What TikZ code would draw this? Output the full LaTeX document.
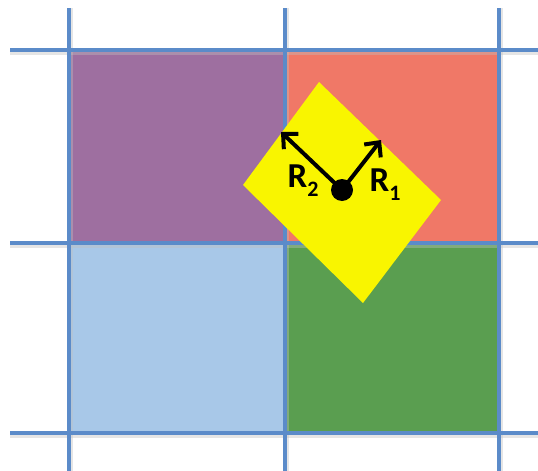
\documentclass[tikz,border=0pt]{standalone}
\usepackage{fontspec}
\setmainfont{Carlito}[BoldFont={Carlito Bold}]
\usetikzlibrary{arrows.meta}
\definecolor{gridblue}{HTML}{5B8BC9}
\definecolor{cpurple}{HTML}{9E6FA0}
\definecolor{csalmon}{HTML}{F07867}
\definecolor{clblue}{HTML}{A8C8E8}
\definecolor{cgreen}{HTML}{5A9E50}
\definecolor{cyellow}{HTML}{F9F500}
\newcommand{\rlab}[1]{\fontsize{35}{35}\selectfont\bfseries R\raisebox{-0.26em}{\fontsize{22}{22}\selectfont\bfseries #1}}
\begin{document}
\begin{tikzpicture}[x=1pt,y=-1pt,
  gridline/.style={draw=gridblue,line width=4pt},
  shadowline/.style={draw=black!25,line width=4pt,opacity=0.4},
  vec/.style={draw=black,line width=4pt,-{Straight Barb[length=11pt,width=21pt,line width=4pt]}},
  lab/.style={inner sep=0pt}]
\useasboundingbox (0,0) rectangle (538,471);
% cells
\fill[cpurple] (69,50) rectangle (285,243);
\fill[csalmon] (285,50) rectangle (499,243);
\fill[clblue] (69,243) rectangle (285,433);
\fill[cgreen] (285,243) rectangle (499,433);
% shadows
\foreach \x in {69,285,499} \draw[shadowline] (\x+2,8) -- (\x+2,471);
\foreach \y in {50,243,433} \draw[shadowline] (10,\y+2.5) -- (538,\y+2.5);
% grid lines
\foreach \x in {69,285,499} \draw[gridline] (\x,8) -- (\x,471);
\foreach \y in {50,243,433} \draw[gridline] (10,\y) -- (538,\y);
% yellow rotated square
\fill[cyellow] (319,82) -- (441,200) -- (363,303) -- (243,185) -- cycle;
% centre and vectors
\node[circle,fill=black,minimum size=22pt,inner sep=0pt] (c) at (342,190) {};
\coordinate (r1) at (381,140);
\coordinate (r2) at (281,132);
\draw[vec] (c.center) -- (r1);
\draw[vec] (c.center) -- (r2);
\node[lab] (l2) at (303,181) {\rlab{2}};
\node[lab] (l1) at (385,185) {\rlab{1}};
\end{tikzpicture}
\end{document}
